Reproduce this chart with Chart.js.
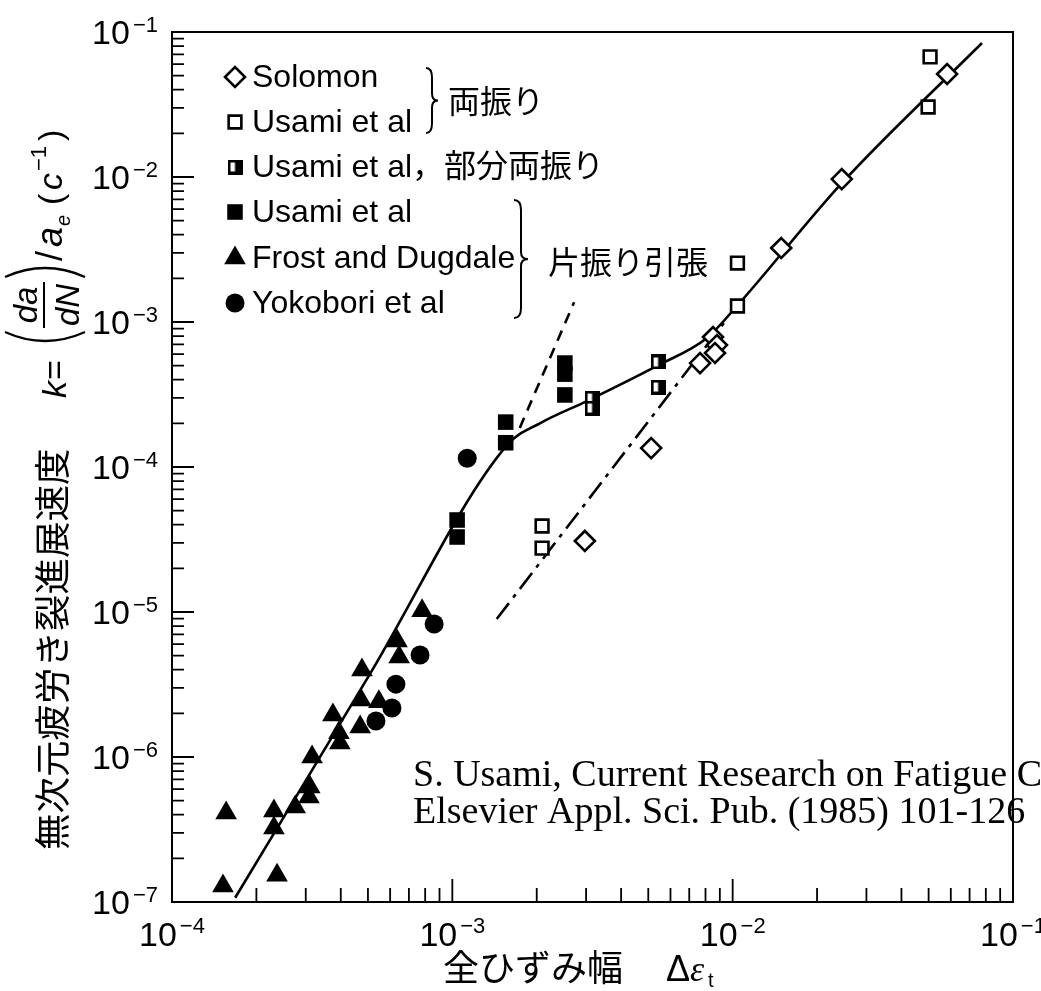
<!DOCTYPE html>
<html>
<head>
<meta charset="utf-8">
<script src="https://cdn.jsdelivr.net/npm/chart.js@4.4.1/dist/chart.umd.min.js"></script>
<style>
  html, body { margin: 0; padding: 0; background: #fff; }
  canvas { display: block; }
</style>
</head>
<body>
<canvas id="c" width="1041" height="991"></canvas>
<script>
// Δε_t (total strain range) vs k = (da/dN)/a_e, log-log

// Solomon (fully reversed)
const solomonX = [2.97e-3, 5.12e-3, 7.65e-3, 8.51e-3, 8.79e-3, 8.65e-3, 1.49e-2, 2.45e-2, 5.82e-2];
const solomonY = [3.09e-5, 1.35e-4, 5.21e-4, 7.88e-4, 6.93e-4, 6.11e-4, 3.24e-3, 9.68e-3, 5.13e-2];

// Usami et al (fully reversed)
const usamiRevX = [2.09e-3, 2.09e-3, 1.04e-2, 1.04e-2, 5.06e-2, 4.98e-2];
const usamiRevY = [3.92e-5, 2.76e-5, 1.29e-3, 2.55e-3, 6.73e-2, 3.04e-2];

// Usami et al (partially reversed)
const usamiPartX = [3.15e-3, 3.15e-3, 5.42e-3, 5.42e-3];
const usamiPartY = [2.99e-4, 2.55e-4, 5.30e-4, 3.56e-4];

// Usami et al (pulsating tension)
const usamiTenX = [1.04e-3, 1.04e-3, 1.55e-3, 1.55e-3, 2.52e-3, 2.52e-3, 2.52e-3];
const usamiTenY = [4.31e-5, 3.29e-5, 2.04e-4, 1.47e-4, 5.21e-4, 4.37e-4, 3.14e-4];

// Frost and Dugdale
const frostX = [7.80e-4, 6.35e-4, 6.46e-4, 4.76e-4, 4.72e-4, 5.47e-4, 3.75e-4, 3.94e-4, 3.97e-4, 4.69e-4,
                3.16e-4, 3.10e-4, 3.08e-4, 2.75e-4, 2.31e-4, 2.31e-4, 2.37e-4, 1.56e-4, 1.52e-4];
const frostY = [1.02e-5, 6.31e-6, 4.90e-6, 3.98e-6, 2.47e-6, 2.40e-6, 1.95e-6, 1.47e-6, 1.25e-6, 1.61e-6,
                1.00e-6, 6.21e-7, 5.30e-7, 4.52e-7, 4.24e-7, 3.24e-7, 1.53e-7, 4.11e-7, 1.29e-7];

// Yokobori et al
const yokoboriX = [1.13e-3, 8.61e-4, 7.67e-4, 6.29e-4, 6.09e-4, 5.34e-4];
const yokoboriY = [1.15e-4, 8.26e-6, 5.05e-6, 3.18e-6, 2.18e-6, 1.77e-6];

// trend lines
const mainCurveX = [1.68e-4, 5.13e-4, 1.57e-3, 2.06e-3, 3.02e-3, 5.37e-3, 8.09e-3, 1.036e-2, 2.455e-2, 7.75e-2];
const mainCurveY = [1.07e-7, 3.85e-6, 1.42e-4, 2.01e-4, 2.85e-4, 4.98e-4, 7.76e-4, 1.29e-3, 9.10e-3, 8.40e-2];
const tensionExtX = [1.74e-3, 2.72e-3];
const tensionExtY = [1.86e-4, 1.37e-3];
const reversedLineX = [1.44e-3, 9.62e-3];
const reversedLineY = [8.95e-6, 1.07e-3];

// axis decades (exponents of 10)
const xDecades = [-4, -3, -2, -1];
const yDecades = [-7, -6, -5, -4, -3, -2, -1];

// legend / annotation text
const legendLabels = ['Solomon', 'Usami et al', 'Usami et al，部分両振り', 'Usami et al', 'Frost and Dugdale', 'Yokobori et al'];
const groupReversed = '両振り';
const groupTension = '片振り引張';
const xTitleMain = '全ひずみ幅';
const yTitleMain = '無次元疲労き裂進展速度';
const sourceLines = ['S. Usami, Current Research on Fatigue Cracks,', 'Elsevier Appl. Sci. Pub. (1985) 101-126'];

const pts = (xs, ys) => xs.map((x, i) => ({ x, y: ys[i] }));

const SANS = "'Liberation Sans', Arial, Helvetica, sans-serif";
const MIX = "'Liberation Sans', 'Noto Sans CJK JP', sans-serif";
const JP = "'Noto Sans CJK JP', sans-serif";
const SERIF = "'Liberation Serif', 'Times New Roman', serif";

// half-filled square marker
function halfSquare(size) {
  const c = document.createElement('canvas');
  c.width = size; c.height = size;
  const g = c.getContext('2d');
  g.fillStyle = '#000';
  g.fillRect(0, 0, size, size);
  g.fillStyle = '#fff';
  g.fillRect(3, 3, size / 2 - 3, size - 6);
  return c;
}
const halfSq = halfSquare(15);

const markerDefs = [
  { style: 'rectRot', radius: 10, fill: '#fff', bw: 2.6 },
  { style: 'rect', radius: 9, fill: '#fff', bw: 2.6 },
  { style: halfSq, radius: 8, fill: '#000', bw: 0 },
  { style: 'rect', radius: 11, fill: '#000', bw: 0 },
  { style: 'triangle', radius: 12.5, fill: '#000', bw: 0 },
  { style: 'circle', radius: 9.5, fill: '#000', bw: 0 }
];

const seriesXY = [
  [solomonX, solomonY], [usamiRevX, usamiRevY], [usamiPartX, usamiPartY],
  [usamiTenX, usamiTenY], [frostX, frostY], [yokoboriX, yokoboriY]
];

const scatterSets = seriesXY.map(([xs, ys], i) => ({
  label: legendLabels[i],
  data: pts(xs, ys),
  pointStyle: markerDefs[i].style,
  pointRadius: markerDefs[i].radius,
  pointBackgroundColor: markerDefs[i].fill,
  pointBorderColor: '#000',
  pointBorderWidth: markerDefs[i].bw,
  showLine: false,
  order: 1
}));

const lineSets = [
  { label: 'curve', data: pts(mainCurveX, mainCurveY), borderDash: [], cubicInterpolationMode: 'monotone' },
  { label: 'tension-ext', data: pts(tensionExtX, tensionExtY), borderDash: [11, 8] },
  { label: 'reversed', data: pts(reversedLineX, reversedLineY), borderDash: [20, 7, 4, 7] }
].map(d => Object.assign({
  showLine: true, pointRadius: 0, borderColor: '#000', borderWidth: 2.6,
  backgroundColor: '#000', fill: false, order: 5
}, d));

function sup(ctx, x, y, base, exp, baseFont, expFont, raise, align) {
  ctx.font = baseFont;
  const wb = ctx.measureText(base).width;
  ctx.font = expFont;
  const we = ctx.measureText(exp).width;
  const gap = 3;
  let x0 = x;
  if (align === 'center') x0 = x - (wb + gap + we) / 2;
  if (align === 'right') x0 = x - (wb + gap + we);
  ctx.textAlign = 'left';
  ctx.textBaseline = 'alphabetic';
  ctx.font = baseFont;
  ctx.fillText(base, x0, y);
  ctx.font = expFont;
  ctx.fillText(exp, x0 + wb + gap, y - raise);
}

function brace(ctx, x, yTop, yBot, w) {
  const h = yBot - yTop, ym = (yTop + yBot) / 2, xm = x + w * 0.5;
  ctx.beginPath();
  ctx.moveTo(x, yTop);
  ctx.quadraticCurveTo(xm, yTop, xm, yTop + Math.min(10, h * 0.15));
  ctx.lineTo(xm, ym - 7);
  ctx.quadraticCurveTo(xm, ym, x + w, ym);
  ctx.quadraticCurveTo(xm, ym, xm, ym + 7);
  ctx.lineTo(xm, yBot - Math.min(10, h * 0.15));
  ctx.quadraticCurveTo(xm, yBot, x, yBot);
  ctx.stroke();
}

function drawMarker(ctx, i, x, y) {
  const m = markerDefs[i];
  ctx.save();
  ctx.fillStyle = m.fill;
  ctx.strokeStyle = '#000';
  ctx.lineWidth = m.bw;
  Chart.helpers.drawPoint(ctx, { pointStyle: m.style, radius: m.radius, rotation: 0, borderWidth: m.bw }, x, y);
  ctx.restore();
}

// rotated y-axis title: Japanese label followed by k = (da/dN)/a_e (c^-1)
function drawYTitle(ctx) {
  ctx.save();
  ctx.translate(66, 850);
  ctx.rotate(-Math.PI / 2);
  ctx.textAlign = 'left';
  ctx.textBaseline = 'alphabetic';
  ctx.font = `36.5px ${JP}`;
  ctx.fillText(yTitleMain, 0, 0);

  ctx.font = `italic 34px ${SANS}`;
  ctx.fillText('k', 452, 0);
  ctx.font = `34px ${SANS}`;
  ctx.fillText('=', 470, 0);

  // large parentheses around the fraction
  ctx.lineWidth = 2.3;
  ctx.beginPath();
  ctx.moveTo(518, -61);
  ctx.quadraticCurveTo(500, -21, 518, 19);
  ctx.moveTo(573, -61);
  ctx.quadraticCurveTo(591, -21, 573, 19);
  ctx.stroke();

  ctx.font = `italic 33px ${SANS}`;
  const cx = 545;
  ctx.textAlign = 'center';
  ctx.fillText('da', cx, -29);
  ctx.fillText('dN', cx, 13);
  ctx.lineWidth = 2;
  ctx.beginPath();
  ctx.moveTo(522, -22); ctx.lineTo(568, -22);
  ctx.stroke();

  ctx.textAlign = 'left';
  ctx.font = `36px ${SANS}`;
  ctx.fillText('/', 589, -4);
  ctx.font = `italic 36px ${SANS}`;
  ctx.fillText('a', 603, -4);
  ctx.font = `italic 20px ${SANS}`;
  ctx.fillText('e', 624, 4);
  ctx.font = `34px ${SANS}`;
  ctx.fillText('(', 645, -4);
  ctx.font = `italic 34px ${SANS}`;
  ctx.fillText('c', 660, -4);
  ctx.font = `22px ${SANS}`;
  ctx.fillText('−1', 679, -20);
  ctx.font = `34px ${SANS}`;
  ctx.fillText(')', 709, -4);
  ctx.restore();
}

const framePlugin = {
  id: 'frameAndText',
  beforeDatasetsDraw(chart) {
    const { ctx, chartArea: a, scales: { x: sx, y: sy } } = chart;
    ctx.save();
    ctx.strokeStyle = '#000';
    ctx.lineWidth = 2;
    ctx.strokeRect(a.left, a.top, a.right - a.left, a.bottom - a.top);
    // inward ticks on bottom and left
    ctx.lineWidth = 1.8;
    ctx.beginPath();
    xDecades.forEach(e => {
      for (let m = 1; m <= 9; m++) {
        if (e === xDecades[xDecades.length - 1] && m > 1) break;
        const px = sx.getPixelForValue(m * Math.pow(10, e));
        const len = m === 1 ? 23 : 14;
        ctx.moveTo(px, a.bottom); ctx.lineTo(px, a.bottom - len);
      }
    });
    yDecades.forEach(e => {
      for (let m = 1; m <= 9; m++) {
        if (e === yDecades[yDecades.length - 1] && m > 1) break;
        const py = sy.getPixelForValue(m * Math.pow(10, e));
        const len = m === 1 ? 22 : 12;
        ctx.moveTo(a.left, py); ctx.lineTo(a.left + len, py);
      }
    });
    ctx.stroke();
    ctx.restore();
  },
  afterDatasetsDraw(chart) {
    const { ctx, scales: { x: sx, y: sy } } = chart;
    ctx.save();
    ctx.fillStyle = '#000';
    ctx.strokeStyle = '#000';
    const baseF = `34px ${SANS}`, expF = `22px ${SANS}`;
    // x tick labels
    xDecades.forEach(e => {
      sup(ctx, sx.getPixelForValue(Math.pow(10, e)), 946, '10', '−' + Math.abs(e), baseF, expF, 13, 'center');
    });
    // y tick labels
    yDecades.forEach(e => {
      sup(ctx, 158, sy.getPixelForValue(Math.pow(10, e)) + 12, '10', '−' + Math.abs(e), baseF, expF, 12, 'right');
    });

    // x title
    ctx.textBaseline = 'alphabetic';
    ctx.textAlign = 'left';
    ctx.font = `36px ${JP}`;
    ctx.fillText(xTitleMain, 443, 981);
    ctx.font = `36px ${SANS}`;
    ctx.fillText('Δ', 666, 981);
    ctx.font = `italic 36px ${SERIF}`;
    ctx.fillText('ε', 690, 981);
    ctx.font = `20px ${SANS}`;
    ctx.fillText('t', 708, 987);

    drawYTitle(ctx);

    // legend
    const rowsY = [77, 122, 167, 212, 258, 303];
    rowsY.forEach((ry, i) => {
      drawMarker(ctx, i, 235, ry);
      ctx.font = `32px ${MIX}`;
      ctx.textAlign = 'left';
      ctx.textBaseline = 'middle';
      ctx.fillText(legendLabels[i], 252, ry + 1);
    });
    ctx.lineWidth = 2;
    brace(ctx, 426, 68, 133, 12);
    brace(ctx, 514, 200, 318, 14);
    ctx.font = `32px ${JP}`;
    ctx.textBaseline = 'middle';
    ctx.fillText(groupReversed, 448, 101);
    ctx.fillText(groupTension, 548, 262);

    // source note
    ctx.font = `38px ${SERIF}`;
    ctx.textBaseline = 'alphabetic';
    ctx.fillText(sourceLines[0], 413, 786);
    ctx.fillText(sourceLines[1], 413, 823);
    ctx.restore();
  }
};

new Chart(document.getElementById('c'), {
  type: 'scatter',
  data: { datasets: [...scatterSets, ...lineSets] },
  options: {
    responsive: false,
    animation: false,
    devicePixelRatio: 1,
    layout: { padding: { top: 32, right: 28, left: 0, bottom: 0 } },
    plugins: { legend: { display: false }, tooltip: { enabled: false } },
    elements: { line: { tension: 0 } },
    scales: {
      x: {
        type: 'logarithmic', min: 1e-4, max: 1e-1,
        grid: { display: false }, border: { display: false },
        ticks: { display: false },
        afterFit: s => { s.height = 89; }
      },
      y: {
        type: 'logarithmic', min: 1e-7, max: 1e-1,
        grid: { display: false }, border: { display: false },
        ticks: { display: false },
        afterFit: s => { s.width = 172; }
      }
    }
  },
  plugins: [framePlugin]
});
</script>
</body>
</html>
